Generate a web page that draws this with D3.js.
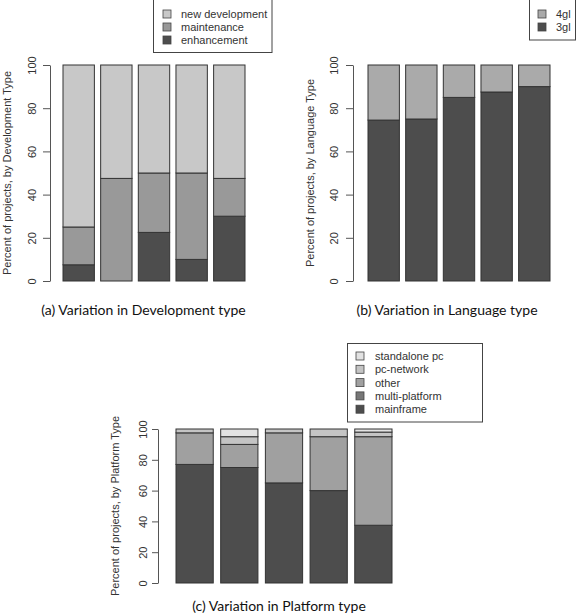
<!DOCTYPE html>
<html>
<head>
<meta charset="utf-8">
<script src="https://cdn.jsdelivr.net/npm/d3@7"></script>
<style>
  html, body { margin: 0; padding: 0; background: #fff; }
  svg { display: block; }
</style>
</head>
<body>
<svg id="chart" width="577" height="613"></svg>
<script>
// ---------- data ----------
const groups = ["1", "2", "3", "4", "5"];
const yTicks = [0, 20, 40, 60, 80, 100];

// (a) development type
const devKeys = ["enhancement", "maintenance", "new development"];
const devEnhancement = [7.5, 0, 22.5, 10, 30];
const devMaintenance = [17.5, 47.5, 27.5, 40, 17.5];
const devNew = [75, 52.5, 50, 50, 52.5];

// (b) language type
const langKeys = ["3gl", "4gl"];
const lang3gl = [74.5, 75, 85, 87.5, 90];
const lang4gl = [25.5, 25, 15, 12.5, 10];

// (c) platform type
const platKeys = ["mainframe", "multi-platform", "other", "pc-network", "standalone pc"];
const platMainframe = [77, 75, 65, 60, 37.5];
const platMulti = [0, 0, 0, 0, 0];
const platOther = [20.5, 15, 32.5, 35, 57.5];
const platPcNetwork = [2.5, 5, 2.5, 5, 3];
const platStandalone = [0, 5, 0, 0, 2];

const titles = ["(a) Variation in Development type", "(b) Variation in Language type", "(c) Variation in Platform type"];
const yLabels = ["Percent of projects, by Development Type", "Percent of projects, by Language Type", "Percent of projects, by Platform Type"];

// ---------- drawing ----------
const SANS = "'Liberation Sans', Arial, Helvetica, sans-serif";
const TITLEFONT = "Lato, 'Open Sans', sans-serif";
const svg = d3.select("#chart");

function rows(keys, series) {
  return groups.map((g, i) => {
    const r = { group: g };
    keys.forEach((k, j) => r[k] = series[j][i]);
    return r;
  });
}

function panel(cfg) {
  const g = svg.append("g");
  const y = d3.scaleLinear().domain([0, 100]).range([cfg.yBottom, cfg.yTop]);
  const x = d3.scaleBand().domain(groups).range([cfg.xLeft, cfg.xRight])
    .paddingInner(0.2 / 1.2).paddingOuter(0);
  const color = d3.scaleOrdinal().domain(cfg.keys).range(cfg.colors);
  const stacked = d3.stack().keys(cfg.keys)(rows(cfg.keys, cfg.series));

  // bars
  g.selectAll("g.layer").data(stacked).join("g").attr("class", "layer")
    .attr("fill", d => color(d.key))
    .selectAll("rect").data(d => d).join("rect")
    .attr("x", (d, i) => x(groups[i]))
    .attr("width", x.bandwidth())
    .attr("y", d => y(d[1]))
    .attr("height", d => y(d[0]) - y(d[1]))
    .attr("stroke", "#333").attr("stroke-width", 1);

  // axis
  const ax = g.append("g").attr("transform", `translate(${cfg.axisX},0)`)
    .call(d3.axisLeft(y).tickValues(yTicks).tickSize(cfg.tickLen).tickSizeOuter(0).tickPadding(0));
  ax.attr("font-family", null).attr("font-size", null);
  ax.select(".domain").attr("stroke", "#555");
  ax.selectAll(".tick line").attr("stroke", "#555");
  ax.selectAll(".tick text")
    .attr("x", null).attr("dy", null)
    .attr("text-anchor", "middle")
    .attr("transform", `translate(${cfg.tickLabelX},0) rotate(-90)`)
    .style("font-family", SANS).style("fill", "#333")
    .style("font-size", cfg.tickFont + "px");

  // y label
  g.append("text")
    .attr("transform", `translate(${cfg.yLabelX},${(cfg.yTop + cfg.yBottom) / 2}) rotate(-90)`)
    .attr("text-anchor", "middle")
    .style("font-family", SANS).style("fill", "#333")
    .style("font-size", cfg.tickFont + "px")
    .text(cfg.yLabel);

  // title
  g.append("text")
    .attr("x", cfg.titleX).attr("y", cfg.titleY)
    .attr("text-anchor", "middle")
    .style("font-family", TITLEFONT).style("fill", "#111")
    .style("font-size", "14px")
    .text(cfg.title);

  // legend
  const L = cfg.legend;
  const lg = g.append("g");
  lg.append("rect").attr("x", L.x).attr("y", L.y).attr("width", L.w).attr("height", L.h)
    .attr("fill", "#fff").attr("stroke", "#444").attr("stroke-width", 1);
  const items = cfg.keys.slice().reverse();
  items.forEach((k, i) => {
    const cy = L.firstY + i * L.step;
    lg.append("rect").attr("x", L.sqX - 4).attr("y", cy - 4).attr("width", 8).attr("height", 8)
      .attr("fill", color(k)).attr("stroke", "#444").attr("stroke-width", 0.8);
    lg.append("text").attr("x", L.textX).attr("y", cy + 4)
      .style("font-family", SANS).style("fill", "#333")
      .style("font-size", L.font + "px").text(k);
  });
}

panel({
  keys: devKeys, series: [devEnhancement, devMaintenance, devNew],
  colors: ["#4d4d4d", "#999999", "#c8c8c8"],
  yTop: 65, yBottom: 281, xLeft: 63, xRight: 245, axisX: 50,
  tickLen: 7, tickLabelX: -14, tickFont: 11, yLabelX: 11,
  yLabel: yLabels[0], title: titles[0], titleX: 143.5, titleY: 315,
  legend: { x: 153.5, y: -1, w: 118.5, h: 53.5, sqX: 167, textX: 181, firstY: 14, step: 13, font: 11 }
});

panel({
  keys: langKeys, series: [lang3gl, lang4gl],
  colors: ["#4d4d4d", "#aaaaaa"],
  yTop: 65, yBottom: 281, xLeft: 368, xRight: 550, axisX: 353,
  tickLen: 7, tickLabelX: -15, tickFont: 11, yLabelX: 314,
  yLabel: yLabels[1], title: titles[1], titleX: 447, titleY: 315,
  legend: { x: 529.5, y: -1, w: 46, h: 41, sqX: 542, textX: 556, firstY: 14, step: 13, font: 11 }
});

panel({
  keys: platKeys, series: [platMainframe, platMulti, platOther, platPcNetwork, platStandalone],
  colors: ["#4d4d4d", "#777777", "#a0a0a0", "#c4c4c4", "#e2e2e2"],
  yTop: 429, yBottom: 583, xLeft: 176, xRight: 392, axisX: 158,
  tickLen: 6, tickLabelX: -11, tickFont: 11, yLabelX: 119,
  yLabel: yLabels[2], title: titles[2], titleX: 279, titleY: 611,
  legend: { x: 347.5, y: 343.5, w: 135, h: 78.5, sqX: 360, textX: 375, firstY: 356, step: 13.3, font: 11 }
});
</script>
</body>
</html>
